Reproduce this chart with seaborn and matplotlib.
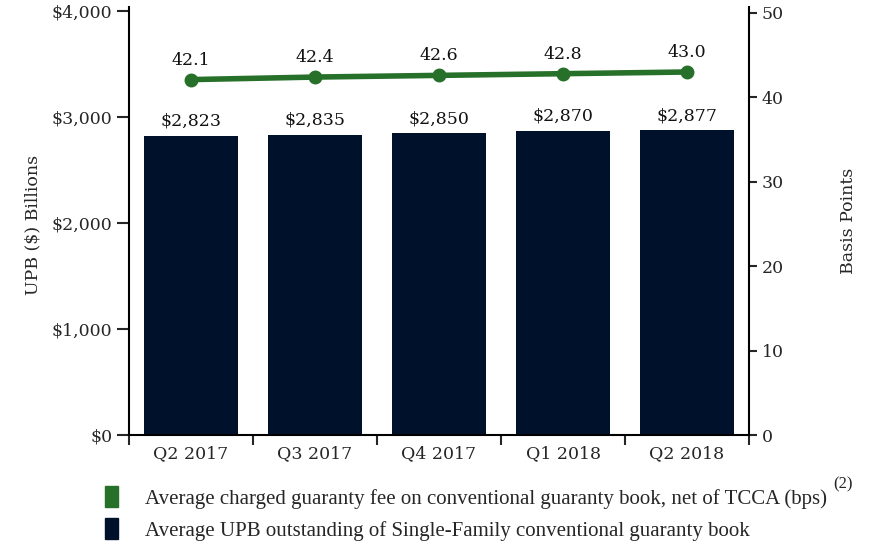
import numpy as np
import pandas as pd
import matplotlib
matplotlib.use("Agg")
import matplotlib.pyplot as plt
import matplotlib.patches as mpatches
import seaborn as sns

quarters = ["Q2 2017", "Q3 2017", "Q4 2017", "Q1 2018", "Q2 2018"]
upb = [2823, 2835, 2850, 2870, 2877]
fee_bps = [42.1, 42.4, 42.6, 42.8, 43.0]
left_ticks = [0, 1000, 2000, 3000, 4000]
left_tick_labels = ["$0", "$1,000", "$2,000", "$3,000", "$4,000"]
right_ticks = [0, 10, 20, 30, 40, 50]
legend_labels = [
    "Average charged guaranty fee on conventional guaranty book, net of TCCA (bps)",
    "Average UPB outstanding of Single-Family conventional guaranty book",
]

NAVY = "#00112b"
GREEN = "#267029"
FONT = "DejaVu Serif"
FS = 12.5

sns.set_style("white")
plt.rcParams["font.family"] = [FONT]

df = pd.DataFrame({"quarter": quarters, "upb": upb, "fee": fee_bps})

fig = plt.figure(figsize=(8.71, 5.46), dpi=100)
ax = fig.add_axes([129 / 871, 1 - 435 / 546, (749 - 129) / 871, (435 - 7) / 546])

sns.barplot(data=df, x="quarter", y="upb", order=quarters, color=NAVY,
            width=0.76, saturation=1, ax=ax)
for p in ax.patches:
    p.set_edgecolor("none")

ax.set_ylim(0, 4038)
ax.set_xlim(-0.5, 4.5)
ax.set_yticks(left_ticks)
ax.set_yticklabels(left_tick_labels, fontsize=FS)
ax.set_ylabel("UPB ($) Billions", fontsize=FS)
ax.yaxis.set_label_coords(-0.142, 0.49)
ax.set_xlabel("")

# bar value labels
for i, v in enumerate(upb):
    ax.text(i, v + 55, f"${v:,}", ha="center", va="bottom", fontsize=FS, color="#111111")

ax2 = ax.twinx()
sns.pointplot(data=df, x="quarter", y="fee", order=quarters, color=GREEN,
              markers="o", ax=ax2, linewidth=4, markersize=7)
ax2.set_ylim(0, 50.7)
ax2.set_yticks(right_ticks)
ax2.set_yticklabels([str(t) for t in right_ticks], fontsize=FS)
ax2.set_ylabel("Basis Points", fontsize=FS)
ax2.yaxis.set_label_coords(1.147, 0.5)
ax2.set_xlabel("")
for i, v in enumerate(fee_bps):
    ax2.text(i, v + 1.3, f"{v:.1f}", ha="center", va="bottom", fontsize=FS, color="#111111")

# x ticks: boundary ticks, centered labels
for a in (ax, ax2):
    a.set_xlim(-0.5, 4.5)
ax.set_xticks(np.arange(-0.5, 5.0, 1.0))
ax.set_xticklabels([])
ax.set_xticks(np.arange(len(quarters)), minor=True)
ax.set_xticklabels(quarters, minor=True, fontsize=FS)
ax.tick_params(axis="x", which="major", direction="out", length=7, width=1.5, bottom=True)
ax.tick_params(axis="x", which="minor", length=0, pad=7)
ax.tick_params(axis="y", direction="out", length=9, width=1.5, left=True, pad=3)
ax2.tick_params(axis="y", direction="out", length=6, width=1.5, right=True, pad=3)

for a in (ax, ax2):
    a.spines["top"].set_visible(False)
    for s in ["left", "right", "bottom"]:
        a.spines[s].set_color("black")
        a.spines[s].set_linewidth(1.5)
ax.spines["right"].set_visible(False)
ax2.spines["left"].set_visible(False)
ax2.spines["bottom"].set_visible(False)

handles = [mpatches.Patch(color=GREEN), mpatches.Patch(color=NAVY)]
leg = fig.legend(handles, legend_labels, loc="upper left",
                 bbox_to_anchor=(105 / 871, 1 - 486 / 546), frameon=False,
                 prop={"family": "Liberation Serif", "size": 15},
                 handlelength=0.6, handleheight=1.2, handletextpad=1.3,
                 labelspacing=0.45, borderpad=0, borderaxespad=0)
fig.text(833 / 871, 1 - 484 / 546, "(2)", fontsize=12, family="Liberation Serif",
         ha="left", va="center")

fig.savefig("out.png", dpi=100)
